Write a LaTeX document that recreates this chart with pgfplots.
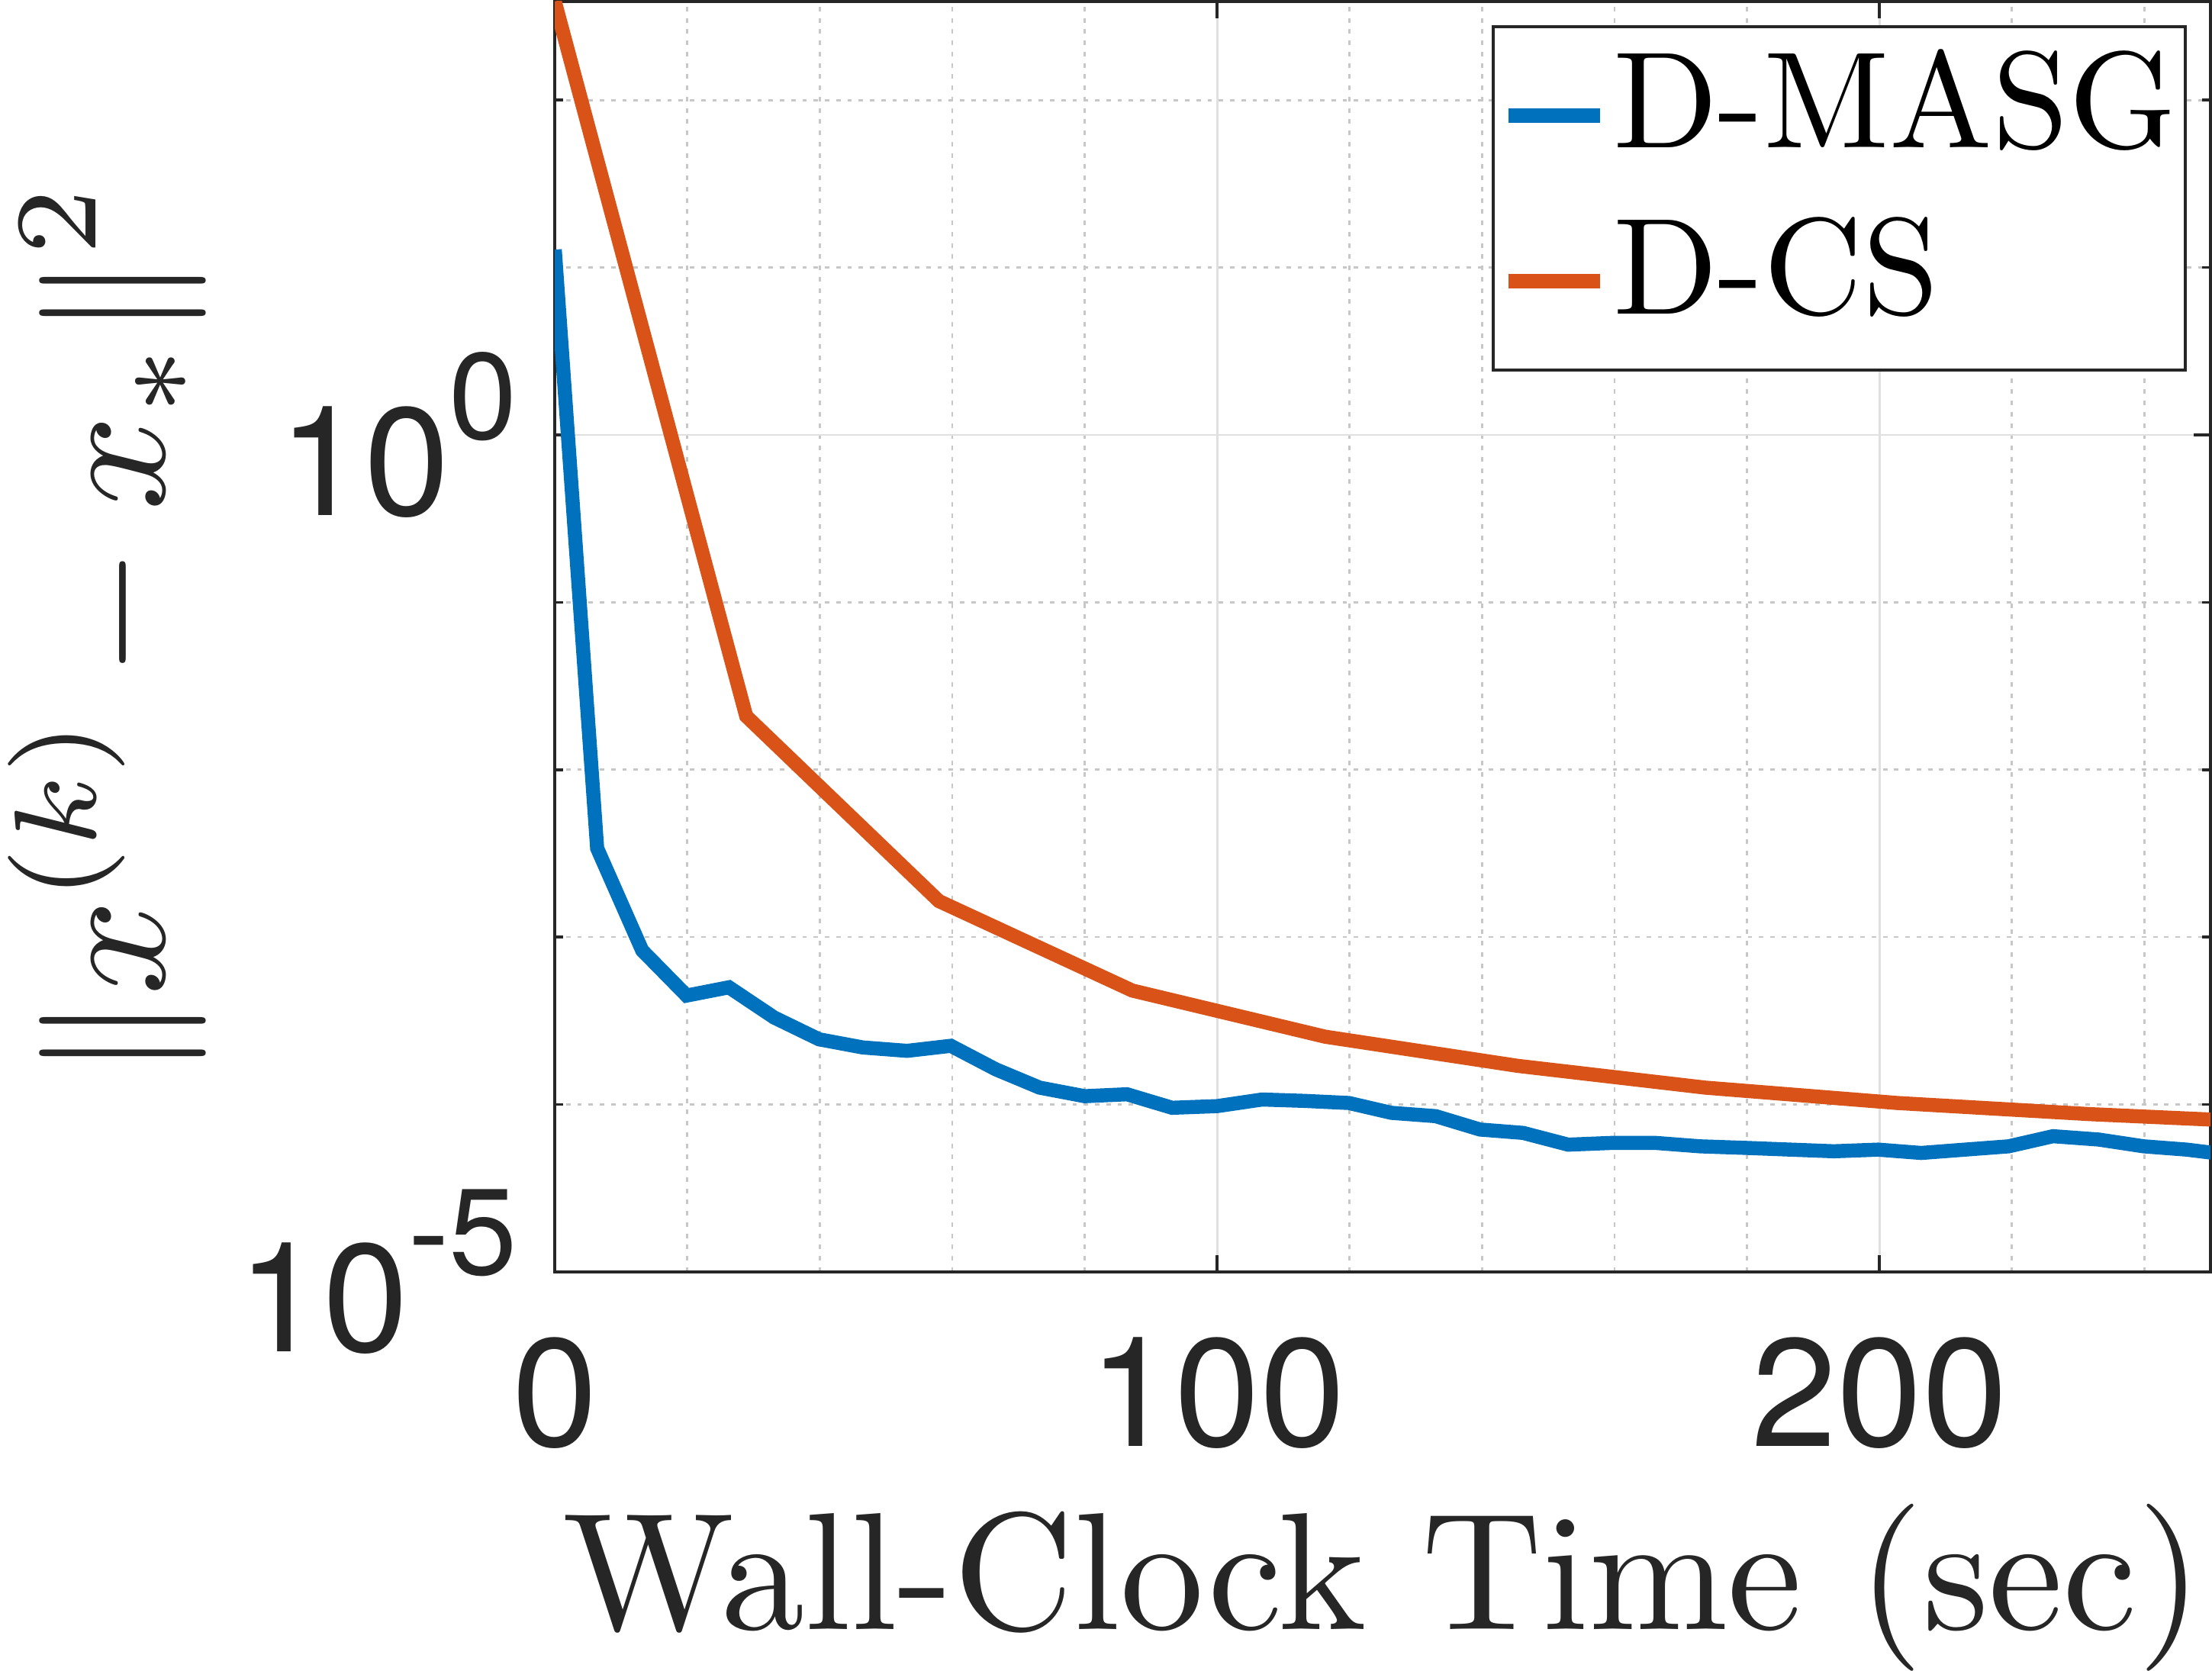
\documentclass[border=0pt]{standalone}
\usepackage{fontspec}
\usepackage{graphicx}
\usepackage{pgfplots}
\pgfplotsset{compat=1.18}
\newfontfamily\hv{TeX Gyre Heros}
\definecolor{mblue}{RGB}{0,114,189}
\definecolor{morange}{RGB}{217,83,25}
\definecolor{mgray}{RGB}{38,38,38}
\newcommand{\ex}[1]{10\raisebox{13.6pt}{\fontsize{21.8}{21.8}\selectfont #1}}
\begin{document}
\begin{tikzpicture}
\begin{axis}[
 scale only axis, width=294.25pt, height=225.75pt,
 ymode=log, xmin=0, xmax=250, ymin=1e-5, ymax=389,
 xtick={0,100,200}, xticklabels={0,100,200},
 ytick={1e-5,1}, yticklabels={\ex{-5},\ex{0}},
 minor xtick={20,40,60,80,120,140,160,180,220,240},
 minor ytick={1e-4,1e-3,1e-2,1e-1,1e1,1e2},
 grid=both,
 major grid style={draw=black!12, line width=0.4pt},
 minor grid style={draw=black!22, line width=0.35pt, dash pattern=on 0.8pt off 1.2pt},
 tick align=inside,
 major tick length=3pt, minor tick length=1.5pt,
 minor x tick style={draw=none},
 tick style={mgray, line width=0.5pt},
 axis line style={mgray, line width=0.5pt},
 tick label style={font=\hv\fontsize{27.3}{27.3}\selectfont, text=mgray, inner sep=0pt},
 xticklabel style={yshift=-11.5pt},
 yticklabel style={xshift=-6.4pt},
 xlabel={\scalebox{2.97}{Wall-Clock Time (sec)}},
 ylabel={\scalebox{2.96}{$\displaystyle \|x^{(k)} - x_*\|^2$}},
 label style={font=\fontsize{10}{12}\selectfont, text=mgray, inner sep=0pt},
 xlabel style={at={(axis description cs:0.5,0)}, anchor=base, yshift=-63.5pt},
 ylabel style={at={(axis description cs:-0.2356,0.5055)}, anchor=base, inner ysep=1.5pt},
 legend style={at={(rel axis cs:1,1)}, anchor=north east, xshift=-4.25pt, yshift=-4.25pt,
   draw=mgray, line width=0.5pt, fill=white, inner xsep=1.5pt, inner ysep=1pt,
   font=\fontsize{10}{12}\selectfont,
   nodes={inner sep=0pt, text height=20.5pt, text depth=9pt},
   column sep=1pt, row sep=0pt},
 legend cell align=left,
 legend image code/.code={\draw[#1, line width=2.6pt] (0pt,0pt) -- (16.25pt,0pt);},
]
\addplot[mblue, line width=2.5pt] coordinates {
(0,12.8) (6.4,3.39e-3) (13.2,8.32e-4) (19.9,4.47e-4) (26.3,5.01e-4) (33.1,3.31e-4)
(39.9,2.45e-4) (46.5,2.19e-4) (53.2,2.09e-4) (59.8,2.24e-4) (66.6,1.62e-4) (73.2,1.26e-4)
(80.0,1.12e-4) (86.4,1.15e-4) (93.2,9.55e-5) (100,9.77e-5) (106.8,1.07e-4) (113.2,1.05e-4)
(119.9,1.02e-4) (126.3,8.91e-5) (133.0,8.51e-5) (139.7,7.08e-5) (146.2,6.76e-5) (153.0,5.75e-5)
(159.6,5.89e-5) (166.2,5.89e-5) (172.9,5.62e-5) (179.8,5.50e-5) (193.1,5.25e-5) (199.8,5.37e-5)
(206.3,5.13e-5) (212.9,5.37e-5) (219.5,5.62e-5) (226.2,6.46e-5) (233.1,6.17e-5) (239.9,5.62e-5)
(246.4,5.37e-5) (250.5,5.13e-5)
};
\addlegendentry{\scalebox{2.44}{D-MASG}}
\addplot[morange, line width=2.5pt] coordinates {
(0,389) (28.9,2.09e-2) (58.0,1.64e-3) (87.2,4.79e-4) (116.3,2.54e-4) (145.4,1.70e-4)
(173.7,1.26e-4) (202.7,1.02e-4) (231.8,8.75e-5) (251,8.09e-5)
};
\addlegendentry{\scalebox{2.44}{D-CS}}
\end{axis}
\end{tikzpicture}
\end{document}
